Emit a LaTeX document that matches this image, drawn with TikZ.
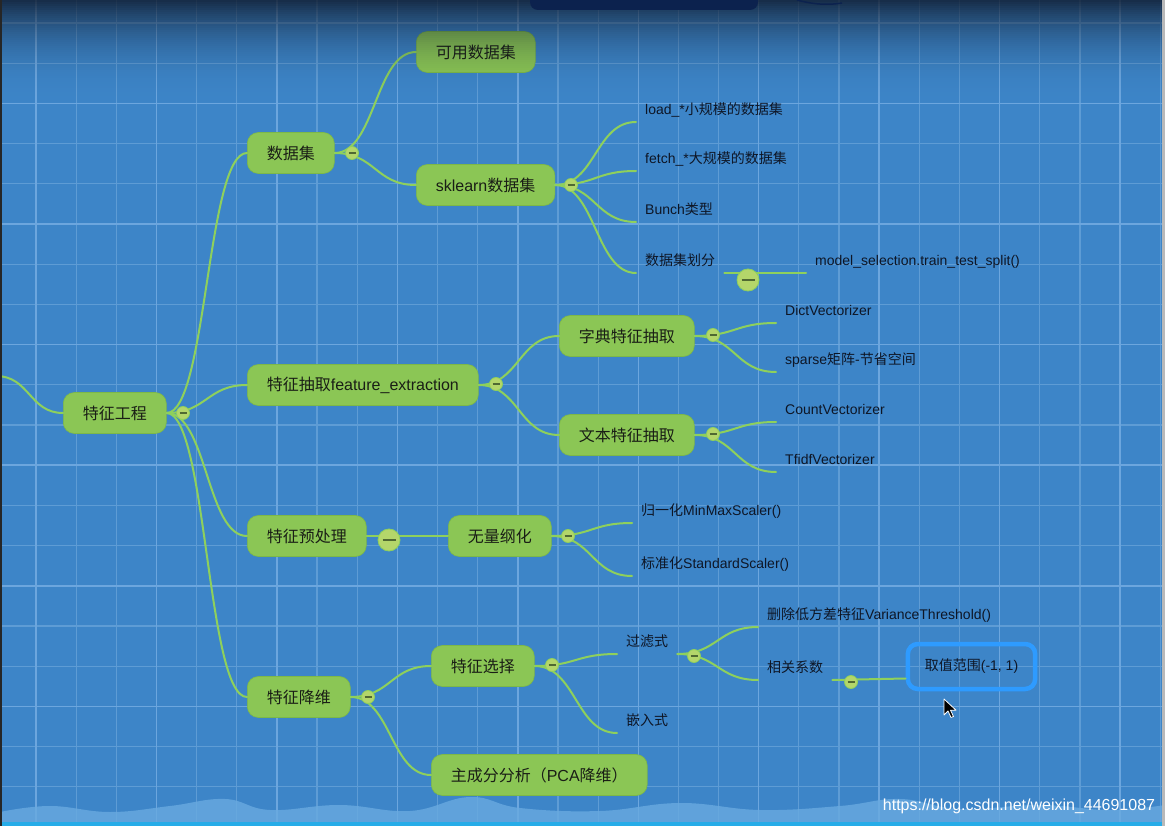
\documentclass[tikz,border=0pt]{standalone}
\usepackage{fontspec}
\setmainfont{Liberation Sans}
\newfontfamily\cjk{Noto Sans CJK SC}
\usetikzlibrary{calc}
\definecolor{bgblue}{RGB}{61,133,200}
\definecolor{gridminor}{RGB}{94,156,213}
\definecolor{gridmajor}{RGB}{108,166,222}
\definecolor{boxgreen}{RGB}{139,198,85}
\definecolor{boxedge}{RGB}{125,184,72}
\definecolor{lineg}{RGB}{142,208,92}
\definecolor{knob}{RGB}{180,214,106}
\definecolor{knobminus}{RGB}{80,105,50}
\definecolor{txt}{RGB}{26,30,22}
\definecolor{leaftxt}{RGB}{14,22,38}
\definecolor{selblue}{RGB}{46,155,255}
\definecolor{topdark}{RGB}{14,24,42}
\definecolor{navybox}{RGB}{12,34,78}
\definecolor{wave}{RGB}{105,170,224}
\definecolor{cyanline}{RGB}{38,172,232}
\tikzset{
  topic/.style={fill=boxgreen, draw=boxedge, line width=0.6pt, rounded corners=11pt,
    minimum height=41pt, inner xsep=19.5pt, inner ysep=0pt, anchor=west, text=txt,
    font=\fontsize{16}{19}\selectfont},
  leaf/.style={anchor=south west, inner xsep=9pt, inner ysep=4.5pt, text height=11pt,
    text depth=3pt, text=leaftxt, font=\fontsize{14}{17}\selectfont},
  branch/.style={draw=lineg, line width=2pt, line cap=round,
    to path={let \p1=(\tikztostart), \p2=(\tikztotarget), \p3=($(\p1)!0.5!(\p2)$) in
      .. controls (\x3,\y1) and (\x3,\y2) .. (\tikztotarget)}},
  knobsm/.style={circle, fill=knob, draw=lineg, line width=0.8pt, minimum size=13pt,
    inner sep=0pt, path picture={\draw[knobminus, line width=1.4pt]
      ([xshift=-3.5pt]path picture bounding box.center) --
      ([xshift=3.5pt]path picture bounding box.center);}},
  knobbig/.style={circle, fill=knob, draw=lineg, line width=0.8pt, minimum size=22pt,
    inner sep=0pt, path picture={\draw[knobminus, line width=2.4pt]
      ([xshift=-6.5pt]path picture bounding box.center) --
      ([xshift=6.5pt]path picture bounding box.center);}},
}
\begin{document}
\begin{tikzpicture}[x=1pt,y=-1pt]
\useasboundingbox (0,0) rectangle (1165,826);
\fill[bgblue] (0,0) rectangle (1165,826);
% grid
\foreach \k in {0,...,28} {
  \draw[gridminor, line width=1.2pt] ({36+40.15*\k},0) -- ({36+40.15*\k},826);
}
\foreach \k in {0,...,20} {
  \draw[gridminor, line width=1.2pt] (0,{23+40.2*\k}) -- (1165,{23+40.2*\k});
}
\foreach \k in {0,3,...,27} {
  \draw[gridmajor, line width=1.5pt] ({36+40.15*\k},0) -- ({36+40.15*\k},826);
}
\foreach \k in {2,5,...,20} {
  \draw[gridmajor, line width=1.5pt] (0,{23+40.2*\k}) -- (1165,{23+40.2*\k});
}

% topics
\node[topic] (root) at (63,413) {\cjk 特征工程};
\node[topic] (ds) at (247,153) {\cjk 数据集};
\node[topic] (avail) at (416,52) {\cjk 可用数据集};
\node[topic] (skl) at (416,185) {sklearn{\cjk 数据集}};
\node[topic] (fe) at (247,385) {{\cjk 特征抽取}feature\_extraction};
\node[topic] (dict) at (559,336) {\cjk 字典特征抽取};
\node[topic] (txt) at (559,435) {\cjk 文本特征抽取};
\node[topic] (pre) at (247,536) {\cjk 特征预处理};
\node[topic] (nd) at (448,536) {\cjk 无量纲化};
\node[topic] (dr) at (247,697) {\cjk 特征降维};
\node[topic] (fs) at (431,666) {\cjk 特征选择};
\node[topic] (pca) at (431,775) {{\cjk 主成分分析（}PCA{\cjk 降维）}};

% leaves
\node[leaf] (l1) at (636,122) {load\_*{\cjk 小规模的数据集}};
\node[leaf] (l2) at (636,171) {fetch\_*{\cjk 大规模的数据集}};
\node[leaf] (l3) at (636,222) {Bunch{\cjk 类型}};
\node[leaf] (l4) at (636,273) {\cjk 数据集划分};
\node[leaf] (l5) at (806,273) {model\_selection.train\_test\_split()};
\node[leaf] (d1) at (776,323) {DictVectorizer};
\node[leaf] (d2) at (776,372) {sparse{\cjk 矩阵}-{\cjk 节省空间}};
\node[leaf] (t1) at (776,422) {CountVectorizer};
\node[leaf] (t2) at (776,472) {TfidfVectorizer};
\node[leaf] (n1) at (632,523) {{\cjk 归一化}MinMaxScaler()};
\node[leaf] (n2) at (632,576) {{\cjk 标准化}StandardScaler()};
\node[leaf] (f1) at (617,654) {\cjk 过滤式};
\node[leaf] (f2) at (617,733) {\cjk 嵌入式};
\node[leaf] (g1) at (758,627) {{\cjk 删除低方差特征}VarianceThreshold()};
\node[leaf] (g2) at (758,680) {\cjk 相关系数};
\node[draw=selblue, line width=4.5pt, rounded corners=10pt, minimum height=45pt,
  inner xsep=17pt, text=leaftxt, font=\fontsize{14}{17}\selectfont]
  (range) at (971.5,666.5) {{\cjk 取值范围}(-1, 1)};

% connectors
\coordinate (offl) at (-4,376);
\draw[branch] (offl) to (root.west);
\draw[branch] (root.east) to (ds.west);
\draw[branch] (root.east) to (fe.west);
\draw[branch] (root.east) to (pre.west);
\draw[branch] (root.east) to (dr.west);
\draw[branch] (ds.east) to (avail.west);
\draw[branch] (ds.east) to (skl.west);
\draw[branch] (skl.east) to (l1.south west);
\draw[branch] (skl.east) to (l2.south west);
\draw[branch] (skl.east) to (l3.south west);
\draw[branch] (skl.east) to (l4.south west);
\draw[branch] (l4.south east) to (l5.south west);
\draw[branch] (fe.east) to (dict.west);
\draw[branch] (fe.east) to (txt.west);
\draw[branch] (dict.east) to (d1.south west);
\draw[branch] (dict.east) to (d2.south west);
\draw[branch] (txt.east) to (t1.south west);
\draw[branch] (txt.east) to (t2.south west);
\draw[branch] (pre.east) to (nd.west);
\draw[branch] (nd.east) to (n1.south west);
\draw[branch] (nd.east) to (n2.south west);
\draw[branch] (dr.east) to (fs.west);
\draw[branch] (dr.east) to (pca.west);
\draw[branch] (fs.east) to (f1.south west);
\draw[branch] (fs.east) to (f2.south west);
\draw[branch] (f1.south east) to (g1.south west);
\draw[branch] (f1.south east) to (g2.south west);
\draw[branch] (g2.south east) to ([yshift=-12pt]range.west);

% collapse knobs
\node[knobsm] (k-root) at (183,413) {};
\node[knobsm] (k-ds) at (352,153) {};
\node[knobsm] (k-skl) at (571,185) {};
\node[knobbig] (k-split) at (748,280) {};
\node[knobsm] (k-fe) at (496,384) {};
\node[knobsm] (k-dict) at (713,335) {};
\node[knobsm] (k-txt) at (713,434) {};
\node[knobbig] (k-pre) at (389,540) {};
\node[knobsm] (k-nd) at (568,536) {};
\node[knobsm] (k-dr) at (368,697) {};
\node[knobsm] (k-fs) at (552,665) {};
\node[knobsm] (k-f1) at (694,656) {};
\node[knobsm] (k-g2) at (851,682) {};

% top shading (stacked strips) and window bits
\foreach \i in {0,...,54} {
  \pgfmathsetmacro\op{0.8*(1-\i/55)^2.5}
  \fill[topdark, fill opacity=\op] (0,{2*\i}) rectangle (1165,{2*\i+2});
}
\fill[navybox, rounded corners=8pt] (530,-12) rectangle (758,10);
\draw[navybox, line width=1.5pt] (797,0) .. controls (815,5) and (830,5) .. (842,3);

% bottom wave
\fill[wave, fill opacity=0.8] plot[smooth, tension=0.7] coordinates {(0,812) (50,806) (110,812)
  (170,806) (225,799) (270,810) (340,805) (410,811) (470,797) (520,808) (600,811) (680,803)
  (760,810) (840,806) (900,799) (960,809) (1040,805) (1110,810) (1165,805)}
  -- (1165,822) -- (0,822) -- cycle;
\fill[cyanline] (0,822) rectangle (1165,826);

% edges
\fill[black!85] (0,0) rectangle (2,826);
\fill[gray!55] (1162,0) rectangle (1165,826);

% watermark
\node[text=white, font=\fontsize{16}{19}\selectfont, inner sep=0pt] (wm) at (1019,806)
  {https://blog.csdn.net/weixin\_44691087};

% mouse pointer
\draw[white, line width=0.8pt, fill=black, line join=round] (944,699) -- ++(0,16) -- ++(4,-4)
  -- ++(3,6.5) -- ++(2.5,-1) -- ++(-3,-6.3) -- ++(5.5,0) -- cycle;
\end{tikzpicture}
\end{document}
